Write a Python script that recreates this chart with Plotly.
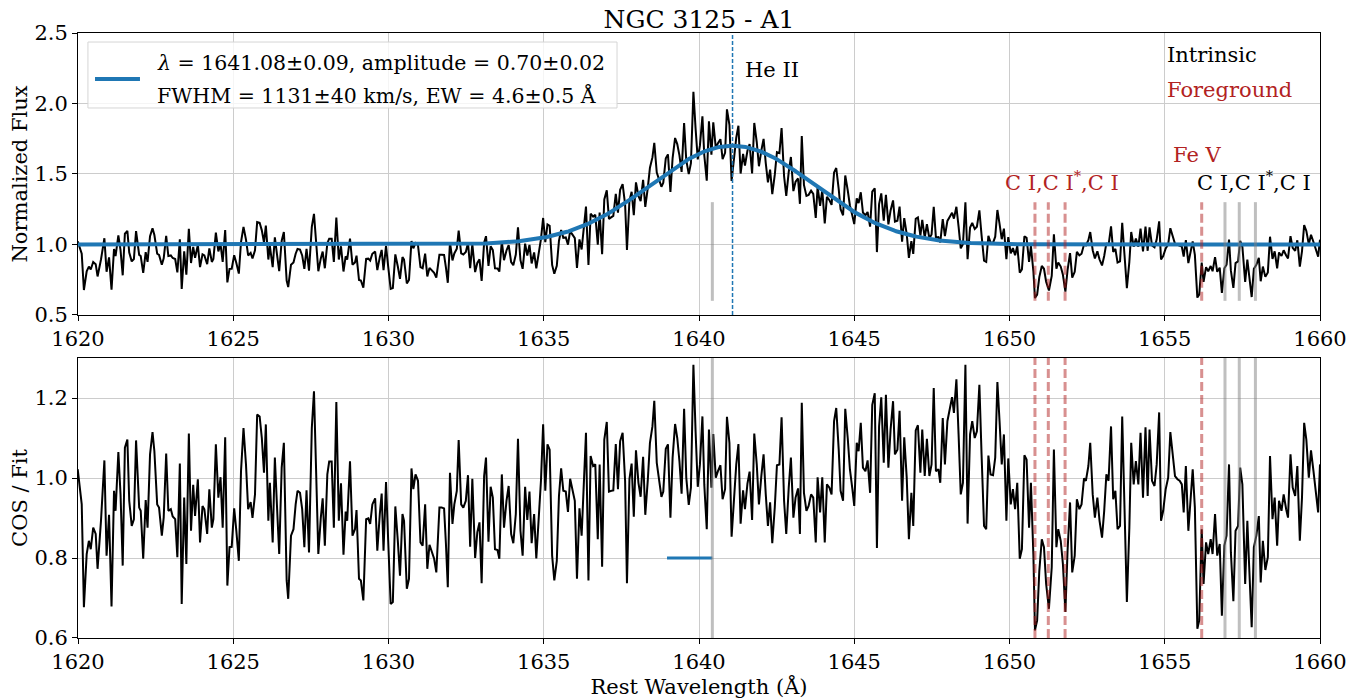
import numpy as np
import plotly.graph_objects as go

# ---------------- data read from the COS / Fit panel (segments of the spectrum) ----------------
wl_1620 = [1619.99, 1620.12, 1620.19, 1620.28, 1620.35, 1620.41, 1620.49, 1620.57, 1620.63, 1620.74,
           1620.85, 1620.92, 1621.00, 1621.08, 1621.16, 1621.21, 1621.30, 1621.37, 1621.44, 1621.51,
           1621.59, 1621.65, 1621.73, 1621.80, 1621.87, 1621.97, 1622.02, 1622.10, 1622.18, 1622.24,
           1622.32, 1622.40, 1622.46, 1622.55, 1622.61, 1622.70, 1622.76, 1622.84, 1622.91, 1622.99,
           1623.05, 1623.13, 1623.20, 1623.28, 1623.34, 1623.42, 1623.49, 1623.57, 1623.64, 1623.71,
           1623.77, 1623.86, 1623.93, 1624.01, 1624.07, 1624.16, 1624.23, 1624.31, 1624.36, 1624.44,
           1624.52, 1624.59, 1624.66, 1624.74, 1624.81, 1624.88, 1624.95, 1625.03, 1625.10, 1625.18,
           1625.25, 1625.33, 1625.41, 1625.48, 1625.56, 1625.62, 1625.70, 1625.77, 1625.85]
ratio_1620 = [1.022, 0.934, 0.677, 0.810, 0.843, 0.822, 0.876, 0.860, 0.773, 0.893,
              1.044, 0.806, 0.908, 0.679, 0.968, 0.918, 1.065, 0.959, 0.781, 1.076,
              1.096, 0.943, 0.880, 0.897, 1.094, 0.926, 0.918, 0.798, 0.945, 0.876,
              1.059, 1.115, 1.067, 0.934, 0.926, 0.856, 0.901, 1.061, 0.918, 0.922,
              0.904, 0.897, 0.802, 1.036, 0.685, 0.951, 0.785, 1.111, 0.868, 0.983,
              0.905, 0.997, 0.839, 0.930, 0.922, 0.860, 0.972, 0.876, 0.897, 1.084,
              0.951, 1.002, 0.876, 1.102, 0.731, 0.827, 0.828, 0.924, 0.868, 0.793,
              1.017, 1.125, 1.034, 0.922, 0.940, 0.900, 0.959, 1.159, 1.154]

wl_1626 = [1625.92, 1625.99, 1626.05, 1626.13, 1626.18, 1626.27, 1626.34, 1626.42, 1626.48, 1626.56,
           1626.63, 1626.72, 1626.77, 1626.86, 1626.94, 1627.01, 1627.07, 1627.15, 1627.22, 1627.29,
           1627.36, 1627.44, 1627.53, 1627.60, 1627.67, 1627.74, 1627.82, 1627.88, 1627.95, 1628.03,
           1628.09, 1628.17, 1628.24, 1628.32, 1628.40, 1628.47, 1628.55, 1628.62, 1628.67, 1628.76,
           1628.84, 1628.92, 1628.97, 1629.05, 1629.11, 1629.19, 1629.28, 1629.35, 1629.41, 1629.48,
           1629.57, 1629.64, 1629.72, 1629.78, 1629.84, 1629.92, 1629.99, 1630.07, 1630.14, 1630.22,
           1630.30, 1630.37, 1630.45, 1630.50, 1630.59, 1630.66, 1630.74, 1630.80, 1630.87, 1630.95,
           1631.03, 1631.10, 1631.18, 1631.25, 1631.32, 1631.39, 1631.47, 1631.54, 1631.64]
ratio_1626 = [1.100, 1.013, 1.134, 0.893, 0.988, 0.839, 1.051, 0.910, 0.810, 1.026,
              1.088, 0.744, 0.698, 0.856, 0.872, 0.934, 0.968, 0.963, 0.922, 0.827,
              0.969, 0.814, 1.125, 1.217, 0.993, 0.810, 0.901, 0.949, 0.831, 1.009,
              1.041, 1.041, 0.876, 1.190, 0.893, 0.987, 0.808, 0.916, 0.893, 1.042,
              0.856, 0.872, 0.920, 0.748, 0.744, 0.694, 0.897, 0.899, 0.885, 0.934,
              0.949, 0.818, 0.910, 0.961, 0.818, 0.990, 0.843, 0.685, 0.690, 0.929,
              0.843, 0.756, 0.910, 0.893, 0.723, 0.748, 1.024, 0.972, 1.009, 0.993,
              0.839, 0.831, 0.934, 0.773, 0.833, 0.818, 0.798, 0.764, 0.926]

wl_1632 = [1631.71, 1631.79, 1631.85, 1631.91, 1631.98, 1632.06, 1632.12, 1632.20, 1632.26, 1632.34,
           1632.41, 1632.49, 1632.56, 1632.63, 1632.70, 1632.79, 1632.86, 1632.93, 1633.00, 1633.08,
           1633.14, 1633.22, 1633.29, 1633.36, 1633.43, 1633.51, 1633.57, 1633.65, 1633.72, 1633.80,
           1633.87, 1633.95, 1634.02, 1634.10, 1634.17, 1634.25, 1634.32, 1634.40, 1634.47, 1634.54,
           1634.61, 1634.69, 1634.76, 1634.84, 1634.91, 1634.98, 1635.05, 1635.12, 1635.19, 1635.27,
           1635.34, 1635.42, 1635.49, 1635.56, 1635.63, 1635.71, 1635.78, 1635.85, 1635.92, 1636.00,
           1636.07, 1636.15, 1636.22, 1636.29, 1636.36, 1636.44, 1636.51, 1636.59, 1636.66, 1636.74,
           1636.80, 1636.88, 1636.95, 1637.03, 1637.10, 1637.18, 1637.24, 1637.32, 1637.39, 1637.46]
ratio_1632 = [0.926, 0.924, 0.835, 0.727, 1.013, 0.885, 0.934, 0.968, 1.095, 0.934,
              0.926, 0.943, 1.007, 0.828, 0.998, 0.800, 0.864, 0.889, 0.737, 1.005,
              1.051, 0.841, 0.978, 0.951, 0.822, 0.820, 0.798, 1.009, 0.876, 0.943,
              0.980, 0.860, 0.837, 0.910, 1.098, 0.868, 0.806, 0.978, 0.895, 0.966,
              0.837, 0.910, 0.799, 0.893, 0.993, 1.134, 0.968, 1.084, 1.071, 0.806,
              0.744, 0.793, 0.955, 1.024, 0.968, 0.966, 0.915, 0.998, 0.968, 0.943,
              0.748, 0.924, 0.856, 1.001, 1.113, 0.744, 1.055, 1.030, 1.034, 0.847,
              1.034, 0.778, 1.096, 1.140, 0.966, 0.968, 0.969, 1.085, 0.972, 1.092]

wl_1638 = [1637.54, 1637.62, 1637.68, 1637.76, 1637.83, 1637.90, 1637.97, 1638.05, 1638.12, 1638.20,
           1638.27, 1638.35, 1638.42, 1638.50, 1638.56, 1638.64, 1638.71, 1638.79, 1638.85, 1638.93,
           1639.00, 1639.08, 1639.15, 1639.23, 1639.30, 1639.37, 1639.44, 1639.52, 1639.59, 1639.67,
           1639.74, 1639.82, 1639.89, 1639.96, 1640.03, 1640.11, 1640.17, 1640.25, 1640.32, 1640.40,
           1640.46, 1640.54, 1640.61, 1640.69, 1640.76, 1640.84, 1640.90, 1640.98, 1641.05, 1641.13,
           1641.20, 1641.27, 1641.34, 1641.42, 1641.48, 1641.56, 1641.63, 1641.71, 1641.78, 1641.86,
           1641.93, 1642.01, 1642.08, 1642.15, 1642.22, 1642.29, 1642.36, 1642.44, 1642.51, 1642.59,
           1642.66, 1642.74, 1642.81, 1642.89, 1642.96, 1643.04, 1643.11, 1643.19, 1643.25]
ratio_1638 = [1.113, 0.993, 0.737, 0.997, 1.036, 0.903, 1.069, 0.988, 0.953, 1.053,
              0.908, 0.994, 1.088, 1.129, 1.193, 1.038, 1.001, 0.953, 0.966, 1.073,
              1.084, 0.901, 1.051, 1.135, 1.100, 1.042, 0.961, 1.173, 1.001, 0.933,
              0.976, 1.283, 1.117, 0.978, 1.034, 1.154, 0.984, 0.872, 1.121, 0.976,
              1.110, 1.001, 1.017, 1.032, 0.947, 0.972, 1.153, 1.088, 0.853, 0.968,
              1.034, 1.085, 0.886, 0.969, 0.922, 0.986, 1.016, 0.895, 1.111, 1.034,
              0.934, 1.007, 1.059, 0.959, 0.880, 0.939, 0.837, 0.926, 1.032, 1.034,
              1.152, 0.943, 0.860, 0.976, 1.051, 0.901, 0.951, 0.974, 0.860]

wl_1643 = [1643.31, 1643.38, 1643.46, 1643.53, 1643.61, 1643.68, 1643.76, 1643.82, 1643.90, 1643.97,
           1644.05, 1644.12, 1644.20, 1644.27, 1644.35, 1644.42, 1644.50, 1644.56, 1644.64, 1644.71,
           1644.79, 1644.86, 1644.94, 1645.00, 1645.08, 1645.14, 1645.21, 1645.28, 1645.36, 1645.43,
           1645.51, 1645.58, 1645.66, 1645.73, 1645.80, 1645.87, 1645.95, 1646.02, 1646.10, 1646.17,
           1646.25, 1646.31, 1646.39, 1646.46, 1646.54, 1646.61, 1646.69, 1646.76, 1646.84, 1646.90,
           1646.98, 1647.05, 1647.13, 1647.19, 1647.27, 1647.34, 1647.42, 1647.49, 1647.56, 1647.63,
           1647.71, 1647.77, 1647.85, 1647.92, 1648.00, 1648.07, 1648.15, 1648.21, 1648.29, 1648.36,
           1648.43, 1648.50, 1648.58, 1648.65, 1648.73, 1648.80, 1648.88, 1648.95, 1649.03]
ratio_1643 = [1.188, 0.963, 0.918, 0.930, 0.959, 0.951, 0.839, 1.002, 0.914, 1.002,
              0.839, 0.984, 0.976, 0.959, 1.142, 1.175, 1.071, 0.968, 0.943, 1.173,
              1.100, 1.022, 0.972, 0.930, 1.088, 1.067, 1.138, 1.026, 1.017, 1.044,
              0.963, 1.183, 1.212, 0.825, 1.129, 1.202, 1.038, 1.208, 1.026, 1.121,
              1.192, 1.059, 1.071, 1.168, 0.943, 1.102, 1.001, 0.847, 0.963, 0.880,
              1.119, 1.132, 1.013, 1.121, 1.005, 1.098, 1.005, 1.034, 1.225, 1.017,
              1.022, 0.988, 1.150, 1.034, 1.142, 1.175, 1.202, 1.163, 1.247, 1.109,
              0.959, 0.988, 1.283, 0.886, 1.109, 1.142, 1.100, 1.117, 1.233]

wl_1649 = [1649.10, 1649.18, 1649.25, 1649.32, 1649.39, 1649.47, 1649.54, 1649.61, 1649.68, 1649.75,
           1649.82, 1649.90, 1649.96, 1650.04, 1650.11, 1650.18, 1650.25, 1650.33, 1650.40, 1650.48,
           1650.55, 1650.63, 1650.69, 1650.77, 1650.82, 1650.89, 1650.96, 1651.04, 1651.11, 1651.18,
           1651.27, 1651.36, 1651.43, 1651.51, 1651.57, 1651.65, 1651.72, 1651.80, 1651.87, 1651.95,
           1652.02, 1652.10, 1652.17, 1652.25, 1652.32, 1652.40, 1652.46, 1652.54, 1652.60, 1652.68,
           1652.75, 1652.83, 1652.90, 1652.98, 1653.05, 1653.12, 1653.19, 1653.27, 1653.34, 1653.41,
           1653.48, 1653.56, 1653.63, 1653.71, 1653.78, 1653.86, 1653.92, 1654.00, 1654.07, 1654.15,
           1654.22, 1654.30, 1654.38, 1654.45, 1654.51, 1654.59, 1654.67, 1654.74, 1654.82]
ratio_1649 = [1.059, 0.880, 0.872, 1.056, 1.009, 1.007, 1.051, 1.240, 1.142, 1.034,
              1.109, 0.893, 1.049, 0.934, 0.972, 0.922, 0.988, 0.798, 0.822, 1.057,
              1.046, 0.876, 0.988, 0.806, 0.619, 0.644, 0.768, 0.847, 0.827, 0.735,
              0.673, 0.777, 1.071, 0.827, 0.872, 0.843, 0.785, 0.665, 0.818, 0.939,
              0.764, 0.806, 0.947, 0.922, 0.934, 0.999, 0.993, 1.030, 1.088, 0.959,
              0.901, 0.951, 0.893, 0.851, 0.918, 1.009, 0.993, 1.129, 0.947, 0.968,
              0.872, 0.880, 1.154, 0.893, 0.690, 0.876, 1.088, 0.984, 1.042, 0.984,
              1.113, 0.951, 1.127, 0.955, 1.121, 0.993, 0.980, 1.034, 1.164]

wl_1655 = [1654.88, 1654.95, 1655.03, 1655.11, 1655.18, 1655.26, 1655.33, 1655.41, 1655.48, 1655.55,
           1655.61, 1655.68, 1655.76, 1655.84, 1655.90, 1655.97, 1656.05, 1656.11, 1656.19, 1656.25,
           1656.33, 1656.40, 1656.48, 1656.54, 1656.62, 1656.69, 1656.77, 1656.84, 1656.92, 1656.99,
           1657.07, 1657.13, 1657.21, 1657.28, 1657.36, 1657.43, 1657.50, 1657.59, 1657.66, 1657.72,
           1657.80, 1657.87, 1657.95, 1658.03, 1658.09, 1658.16, 1658.24, 1658.32, 1658.39, 1658.47,
           1658.54, 1658.62, 1658.68, 1658.76, 1658.83, 1658.91, 1658.97, 1659.05, 1659.12, 1659.20,
           1659.27, 1659.35, 1659.42, 1659.49, 1659.56, 1659.64, 1659.71, 1659.79, 1659.86, 1659.94,
           1660.00]
ratio_1655 = [0.893, 0.918, 0.972, 1.001, 1.115, 1.059, 1.005, 0.997, 0.993, 0.984,
              0.914, 1.030, 0.868, 0.955, 1.022, 0.926, 0.623, 0.644, 0.872, 0.735,
              0.839, 0.810, 0.847, 0.810, 0.910, 0.806, 0.835, 0.656, 0.831, 0.856,
              1.034, 0.814, 0.692, 0.868, 0.880, 1.026, 0.984, 0.735, 0.893, 0.777,
              0.627, 0.827, 0.856, 0.905, 0.739, 0.843, 0.770, 0.802, 1.055, 0.897,
              0.951, 0.831, 0.943, 0.918, 0.959, 0.922, 0.901, 1.059, 0.976, 0.955,
              1.030, 0.843, 0.951, 1.138, 1.096, 1.001, 1.069, 1.017, 0.972, 0.914,
              1.034]

# ---------------- fit parameters (from the legend) ----------------
fit_center = 1641.08
fit_amplitude = 0.70
fit_fwhm_kms = 1131.0
speed_of_light_kms = 299792.458

# ---------------- absorption line markers ----------------
intrinsic_lines = [1640.43, 1656.94, 1657.40, 1657.92]
foreground_lines = [1650.82, 1651.25, 1651.79, 1656.19]
heii_line = 1641.08
marker_range = [0.6, 1.3]
blue_segment_x = [1638.97, 1640.43]
blue_segment_y = [0.8, 0.8]

x_ticks = [1620, 1625, 1630, 1635, 1640, 1645, 1650, 1655, 1660]
top_y_ticks = [0.5, 1.0, 1.5, 2.0, 2.5]
bottom_y_ticks = [0.6, 0.8, 1.0, 1.2]

# ---------------- assemble ----------------
segments = [(wl_1620, ratio_1620), (wl_1626, ratio_1626), (wl_1632, ratio_1632), (wl_1638, ratio_1638),
            (wl_1643, ratio_1643), (wl_1649, ratio_1649), (wl_1655, ratio_1655)]
wl_all, ratio_all = [], []
for w, r in segments:
    n = min(len(w), len(r))
    wl_all += w[:n]
    ratio_all += r[:n]
wavelength = np.array(wl_all)
cos_over_fit = np.array(ratio_all)

sigma = fit_fwhm_kms / speed_of_light_kms * fit_center / (2.0 * np.sqrt(2.0 * np.log(2.0)))


def model(x):
    return 1.0 + fit_amplitude * np.exp(-0.5 * ((x - fit_center) / sigma) ** 2)


flux = cos_over_fit * model(wavelength)
model_wl = np.linspace(1620, 1660, 801)
model_flux = model(model_wl)

FONT = "DejaVu Serif"
BLUE = "#1f77b4"
RED_TEXT = "#b22222"
RED_LINE = "rgba(178,34,34,0.5)"
GRAY_LINE = "rgba(128,128,128,0.5)"
FS = 21
LEG_FS = 20.5

fig = go.Figure()
fig.add_trace(go.Scatter(x=wavelength, y=flux, mode="lines", line=dict(color="black", width=2),
                         xaxis="x", yaxis="y", showlegend=False, name="COS"))
fig.add_trace(go.Scatter(x=model_wl, y=model_flux, mode="lines", line=dict(color=BLUE, width=4),
                         xaxis="x", yaxis="y", showlegend=False, name="Fit"))
fig.add_trace(go.Scatter(x=wavelength, y=cos_over_fit, mode="lines", line=dict(color="black", width=2),
                         xaxis="x2", yaxis="y2", showlegend=False, name="COS / Fit"))
fig.add_trace(go.Scatter(x=blue_segment_x, y=blue_segment_y, mode="lines", line=dict(color=BLUE, width=3),
                         xaxis="x2", yaxis="y2", showlegend=False))

shapes = []
for w in intrinsic_lines:
    shapes.append(dict(type="line", xref="x", yref="y", x0=w, x1=w, y0=marker_range[0], y1=marker_range[1],
                       line=dict(color=GRAY_LINE, width=3), layer="above"))
    shapes.append(dict(type="line", xref="x2", yref="y2 domain", x0=w, x1=w, y0=0, y1=1,
                       line=dict(color=GRAY_LINE, width=3), layer="above"))
for w in foreground_lines:
    shapes.append(dict(type="line", xref="x", yref="y", x0=w, x1=w, y0=marker_range[0], y1=marker_range[1],
                       line=dict(color=RED_LINE, width=3, dash="9px,4px"), layer="above"))
    shapes.append(dict(type="line", xref="x2", yref="y2 domain", x0=w, x1=w, y0=0, y1=1,
                       line=dict(color=RED_LINE, width=3, dash="9px,4px"), layer="above"))
shapes.append(dict(type="line", xref="x", yref="y domain", x0=heii_line, x1=heii_line, y0=0, y1=1,
                   line=dict(color=BLUE, width=1.5, dash="4px,2px"), layer="above"))
# legend box
shapes.append(dict(type="rect", xref="x domain", yref="y domain", x0=0.008, x1=0.434, y0=0.734, y1=0.968,
                   line=dict(color="#d5d5d5", width=1), fillcolor="rgba(255,255,255,0.8)", layer="above"))
shapes.append(dict(type="line", xref="x domain", yref="y domain", x0=0.0137, x1=0.0499, y0=0.837, y1=0.837,
                   line=dict(color=BLUE, width=4), layer="above"))

annotations = [
    dict(xref="x domain", yref="y domain", x=0.062, y=0.894, xanchor="left", yanchor="middle", showarrow=False,
         text="<i>λ</i> = 1641.08±0.09, amplitude = 0.70±0.02", font=dict(family=FONT, size=LEG_FS, color="black")),
    dict(xref="x domain", yref="y domain", x=0.062, y=0.780, xanchor="left", yanchor="middle", showarrow=False,
         text="FWHM = 1131±40 km/s, EW = 4.6±0.5 Å", font=dict(family=FONT, size=LEG_FS, color="black")),
    dict(xref="x", yref="y", x=1641.42, y=2.238, xanchor="left", yanchor="middle", showarrow=False,
         text="He II", font=dict(family=FONT, size=FS, color="black")),
    dict(xref="x", yref="y", x=1655.01, y=2.344, xanchor="left", yanchor="middle", showarrow=False,
         text="Intrinsic", font=dict(family=FONT, size=FS, color="black")),
    dict(xref="x", yref="y", x=1655.01, y=2.096, xanchor="left", yanchor="middle", showarrow=False,
         text="Foreground", font=dict(family=FONT, size=FS, color=RED_TEXT)),
    dict(xref="x", yref="y", x=1655.20, y=1.635, xanchor="left", yanchor="middle", showarrow=False,
         text="Fe V", font=dict(family=FONT, size=FS, color=RED_TEXT)),
    dict(xref="x", yref="y", x=1649.79, y=1.45, xanchor="left", yanchor="middle", showarrow=False,
         text="C I,C I<sup>*</sup>,C I", font=dict(family=FONT, size=FS, color=RED_TEXT)),
    dict(xref="x", yref="y", x=1655.97, y=1.45, xanchor="left", yanchor="middle", showarrow=False,
         text="C I,C I<sup>*</sup>,C I", font=dict(family=FONT, size=FS, color="black")),
]

axis_common = dict(showline=True, linecolor="black", linewidth=1, mirror=True, ticks="outside", ticklen=5,
                   tickcolor="black", tickwidth=1, showgrid=True, gridcolor="#cccccc", gridwidth=1,
                   zeroline=False, automargin=False, tickfont=dict(family=FONT, size=FS, color="black"))

# the page body adds an 8px offset; the figure is sized so the plot areas land where the reference has them
fig.update_layout(
    width=1350, height=692,
    margin=dict(l=70, r=38, t=25, b=62),
    paper_bgcolor="white", plot_bgcolor="white",
    font=dict(family=FONT, size=FS, color="black"),
    title=dict(text="NGC 3125 - A1", xref="paper", x=0.5, xanchor="center", yref="container",
               y=0.9957, yanchor="top", pad=dict(t=0, b=0), font=dict(family=FONT, size=25, color="black")),
    xaxis=dict(domain=[0, 1], anchor="y", range=[1620, 1660], tickvals=x_ticks, **axis_common),
    yaxis=dict(domain=[0.534, 1], anchor="x", range=[0.5, 2.5], tickvals=top_y_ticks, tickformat=".1f",
               title=dict(text="Normalized Flux", font=dict(family=FONT, size=FS), standoff=4), **axis_common),
    xaxis2=dict(domain=[0, 1], anchor="y2", range=[1620, 1660], tickvals=x_ticks,
                title=dict(text="Rest Wavelength (Å)", font=dict(family=FONT, size=FS), standoff=6), **axis_common),
    yaxis2=dict(domain=[0, 0.4628], anchor="x2", range=[0.6, 1.3], tickvals=bottom_y_ticks, tickformat=".1f",
                title=dict(text="COS / Fit", font=dict(family=FONT, size=FS), standoff=4), **axis_common),
    shapes=shapes,
    annotations=annotations,
    showlegend=False,
)

fig.write_html("out.html")
